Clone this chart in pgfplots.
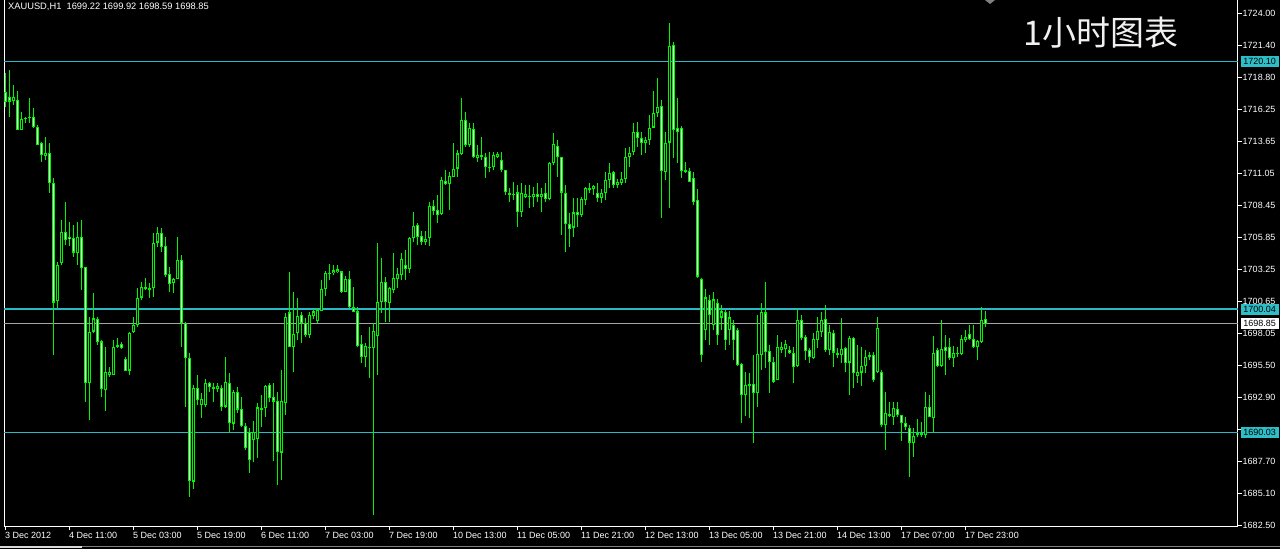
\documentclass[border=0pt]{standalone}
\usepackage{pgfplots}
\pgfplotsset{compat=1.18}
\usepackage{pgfplotstable}
\usepackage{fontspec}
\setmainfont{Liberation Sans}
\newfontfamily\cjk{Noto Sans CJK SC}
\definecolor{mtgreen}{RGB}{0,245,0}
\definecolor{lvl}{RGB}{40,185,200}
\definecolor{lvlbox}{RGB}{45,190,200}
\definecolor{pricel}{RGB}{165,165,165}
\definecolor{bearfill}{RGB}{215,255,215}

\pgfplotstableread{
k o h l c
0 1717.60 1719.22 1716.46 1716.79
1 1717.27 1719.46 1715.64 1716.87
2 1716.95 1718.24 1716.62 1717.27
3 1717.03 1717.68 1714.59 1714.59
4 1714.59 1716.05 1714.59 1715.48
5 1715.48 1715.64 1715.16 1715.56
6 1715.64 1717.19 1715.16 1715.56
7 1715.64 1716.38 1714.76 1714.84
8 1714.84 1715.00 1713.37 1713.37
9 1713.54 1713.62 1712.00 1712.56
10 1712.48 1714.02 1712.16 1712.73
11 1712.73 1713.54 1709.49 1710.30
12 1710.30 1710.70 1696.35 1700.58
13 1700.66 1703.90 1700.17 1703.65
14 1703.82 1707.30 1703.65 1706.33
15 1706.33 1708.76 1705.27 1705.68
16 1705.92 1707.06 1705.11 1705.68
17 1705.84 1706.89 1704.30 1704.63
18 1704.63 1707.14 1703.65 1705.92
19 1705.92 1707.30 1701.63 1703.41
20 1703.49 1703.49 1692.55 1694.09
21 1694.09 1699.44 1691.09 1698.22
22 1698.22 1701.39 1698.14 1699.28
23 1699.28 1699.36 1697.16 1697.41
24 1697.41 1697.57 1692.95 1693.52
25 1693.52 1697.00 1691.74 1694.98
26 1694.73 1695.38 1694.57 1694.98
27 1694.73 1697.57 1694.73 1697.00
28 1697.00 1697.73 1696.92 1697.16
29 1697.25 1697.41 1696.84 1696.92
30 1696.03 1696.19 1695.06 1695.06
31 1695.06 1698.22 1694.73 1698.14
32 1698.22 1699.44 1698.14 1698.78
33 1698.78 1701.79 1698.62 1700.98
34 1700.98 1702.28 1700.82 1701.87
35 1701.71 1702.60 1701.63 1701.87
36 1701.79 1702.20 1700.98 1701.63
37 1701.79 1706.25 1701.06 1705.44
38 1705.44 1706.73 1705.11 1706.25
39 1706.25 1706.65 1704.71 1705.11
40 1705.19 1705.92 1702.68 1702.84
41 1702.93 1703.49 1701.39 1702.12
42 1702.20 1702.60 1701.39 1702.52
43 1702.52 1705.92 1702.44 1704.06
44 1704.06 1704.46 1697.00 1698.95
45 1698.95 1699.03 1692.14 1696.11
46 1696.11 1696.52 1684.85 1686.07
47 1686.07 1693.92 1685.42 1693.68
48 1693.68 1694.73 1692.30 1692.71
49 1692.30 1693.28 1691.25 1692.79
50 1692.30 1694.41 1692.14 1694.09
51 1694.09 1694.17 1693.36 1693.76
52 1693.76 1694.09 1692.55 1693.60
53 1693.60 1694.09 1693.36 1693.84
54 1693.68 1693.92 1691.74 1692.14
55 1692.14 1696.19 1692.06 1694.09
56 1694.09 1694.90 1690.04 1690.77
57 1690.77 1693.52 1690.28 1693.36
58 1693.36 1693.76 1691.66 1691.90
59 1691.98 1692.95 1690.52 1690.60
60 1690.60 1690.85 1688.66 1688.82
61 1690.12 1690.44 1686.80 1687.85
62 1689.47 1690.93 1687.61 1690.12
63 1689.47 1692.47 1688.01 1692.06
64 1692.06 1693.11 1690.52 1691.90
65 1692.06 1693.92 1691.33 1693.84
66 1693.92 1694.09 1692.55 1692.87
67 1692.95 1694.09 1687.69 1692.55
68 1692.63 1693.36 1685.82 1688.50
69 1688.42 1695.14 1686.23 1692.63
70 1692.47 1699.77 1691.49 1699.44
71 1699.77 1703.09 1697.00 1697.00
72 1697.00 1701.47 1694.98 1698.06
73 1698.14 1700.98 1697.57 1699.52
74 1699.60 1699.77 1697.33 1698.95
75 1698.95 1699.36 1697.81 1697.97
76 1697.97 1699.85 1697.73 1699.60
77 1699.52 1700.09 1699.28 1699.85
78 1699.11 1700.17 1698.95 1700.01
79 1699.93 1702.44 1699.85 1701.71
80 1701.71 1703.17 1701.14 1703.01
81 1703.01 1703.74 1702.44 1702.93
82 1702.93 1703.65 1702.84 1703.17
83 1703.01 1703.65 1703.01 1703.25
84 1703.09 1703.17 1701.39 1701.39
85 1701.39 1702.76 1701.39 1702.52
86 1702.52 1703.17 1700.17 1700.25
87 1700.17 1701.79 1699.77 1699.77
88 1699.85 1700.25 1697.00 1697.08
89 1697.25 1697.97 1695.71 1696.19
90 1696.19 1697.33 1695.38 1697.08
91 1697.00 1698.62 1694.49 1696.92
92 1696.92 1698.95 1683.39 1698.30
93 1697.89 1705.44 1694.73 1700.66
94 1700.58 1704.22 1699.77 1702.20
95 1702.28 1702.60 1698.95 1700.66
96 1700.58 1701.87 1699.03 1701.79
97 1701.63 1704.63 1701.39 1702.60
98 1702.52 1703.41 1701.79 1702.93
99 1702.84 1704.63 1702.44 1704.14
100 1703.65 1704.87 1702.44 1703.33
101 1703.33 1705.92 1703.01 1705.84
102 1705.84 1707.95 1705.52 1706.81
103 1706.89 1707.06 1705.27 1705.92
104 1706.00 1706.33 1705.27 1705.44
105 1705.44 1706.33 1705.27 1705.76
106 1705.84 1708.68 1705.11 1708.43
107 1708.43 1708.92 1707.70 1708.03
108 1708.11 1709.32 1707.06 1707.70
109 1707.79 1710.78 1707.70 1710.54
110 1710.46 1711.35 1710.13 1710.22
111 1710.22 1711.11 1708.11 1710.86
112 1710.78 1713.54 1710.78 1711.43
113 1711.43 1712.97 1710.78 1712.65
114 1712.65 1717.19 1712.56 1715.40
115 1715.40 1716.05 1713.21 1713.37
116 1713.37 1715.16 1713.21 1714.76
117 1714.67 1715.16 1712.32 1712.40
118 1712.32 1713.37 1712.00 1712.56
119 1712.56 1714.02 1712.16 1712.40
120 1712.40 1712.73 1710.70 1711.59
121 1711.59 1712.81 1711.19 1711.51
122 1711.59 1712.81 1711.35 1712.56
123 1712.40 1712.81 1712.32 1712.65
124 1712.16 1712.81 1711.11 1711.35
125 1711.35 1711.35 1709.32 1709.49
126 1709.49 1709.89 1708.76 1709.32
127 1709.32 1710.38 1708.92 1709.41
128 1709.49 1710.13 1706.73 1707.87
129 1707.95 1710.30 1707.54 1709.49
130 1709.16 1710.13 1709.08 1709.41
131 1709.24 1710.13 1708.27 1709.16
132 1709.16 1709.97 1708.35 1709.41
133 1709.41 1710.30 1708.76 1709.16
134 1709.16 1709.89 1707.87 1709.41
135 1709.49 1710.30 1708.76 1709.00
136 1709.00 1712.00 1708.92 1711.92
137 1711.92 1714.35 1711.75 1713.46
138 1713.29 1713.78 1710.78 1712.40
139 1712.40 1712.40 1706.08 1709.49
140 1709.49 1710.13 1704.71 1706.98
141 1706.98 1707.87 1705.11 1706.57
142 1706.65 1709.08 1705.92 1707.87
143 1707.95 1709.08 1706.73 1707.70
144 1707.70 1709.16 1707.54 1709.00
145 1708.92 1709.97 1708.51 1709.89
146 1709.89 1710.30 1709.49 1709.73
147 1709.81 1710.13 1709.32 1710.05
148 1709.49 1710.30 1708.76 1709.08
149 1709.08 1709.81 1708.68 1709.49
150 1709.49 1711.19 1708.92 1710.54
151 1710.54 1711.92 1709.89 1711.11
152 1711.11 1711.27 1709.89 1710.13
153 1710.13 1710.62 1709.89 1710.38
154 1710.30 1711.19 1710.13 1710.62
155 1710.62 1713.13 1710.30 1712.40
156 1712.40 1713.21 1711.59 1712.73
157 1712.73 1715.16 1712.56 1714.43
158 1714.43 1715.24 1713.21 1713.94
159 1713.94 1714.35 1712.56 1713.54
160 1713.54 1714.02 1712.73 1713.78
161 1713.78 1715.81 1713.37 1714.76
162 1714.76 1717.68 1714.76 1715.97
163 1715.97 1718.81 1715.64 1716.46
164 1716.54 1717.03 1707.46 1711.27
165 1711.19 1714.43 1710.54 1713.54
166 1713.54 1723.27 1708.27 1721.40
167 1721.48 1721.65 1712.32 1714.59
168 1714.76 1717.19 1711.92 1714.43
169 1714.76 1714.84 1710.70 1711.27
170 1711.35 1712.00 1711.11 1711.19
171 1711.27 1711.51 1710.38 1710.38
172 1710.70 1711.11 1708.51 1708.76
173 1708.92 1709.81 1702.60 1702.68
174 1702.52 1702.60 1695.79 1696.35
175 1698.38 1701.63 1697.57 1700.98
176 1700.82 1701.22 1697.16 1699.60
177 1698.78 1701.47 1698.38 1700.82
178 1700.58 1700.82 1697.16 1697.97
179 1699.36 1700.41 1698.38 1699.85
180 1699.77 1700.01 1696.76 1697.57
181 1698.38 1699.85 1697.16 1699.36
182 1698.78 1699.19 1695.95 1697.57
183 1698.38 1698.54 1695.46 1695.54
184 1695.63 1695.71 1690.85 1693.11
185 1693.11 1694.90 1691.33 1693.92
186 1694.01 1694.90 1691.25 1693.84
187 1694.01 1696.35 1689.22 1693.28
188 1693.28 1699.60 1692.14 1696.44
189 1696.35 1700.58 1695.14 1699.77
190 1699.77 1702.28 1695.30 1696.60
191 1696.68 1697.16 1693.28 1695.79
192 1695.79 1696.19 1694.09 1694.17
193 1694.33 1697.97 1694.33 1697.00
194 1696.76 1697.41 1696.52 1697.00
195 1696.84 1697.57 1696.19 1697.25
196 1696.76 1697.08 1696.44 1696.52
197 1696.52 1697.00 1694.09 1695.38
198 1695.46 1700.09 1695.38 1699.19
199 1699.19 1699.60 1697.57 1697.73
200 1697.81 1697.97 1695.95 1696.68
201 1696.76 1696.92 1695.71 1696.19
202 1696.11 1698.14 1696.03 1697.65
203 1697.57 1699.36 1696.92 1698.30
204 1698.22 1699.85 1697.81 1699.19
205 1699.28 1700.41 1696.60 1696.76
206 1696.76 1698.78 1696.35 1698.22
207 1698.14 1698.38 1695.38 1696.52
208 1696.52 1696.92 1696.11 1696.35
209 1696.35 1699.36 1695.71 1696.84
210 1696.92 1697.00 1694.98 1695.71
211 1695.71 1697.89 1693.11 1697.73
212 1697.73 1697.81 1693.68 1694.90
213 1694.65 1697.16 1694.09 1694.98
214 1694.90 1697.00 1693.84 1695.46
215 1695.46 1696.76 1694.90 1696.19
216 1696.19 1696.60 1695.95 1696.35
217 1696.35 1696.60 1694.17 1694.33
218 1694.98 1699.44 1694.90 1698.54
219 1694.98 1695.14 1690.52 1690.68
220 1690.68 1693.36 1688.66 1691.66
221 1691.58 1692.55 1691.33 1691.41
222 1691.33 1692.55 1690.68 1692.06
223 1691.98 1692.47 1691.33 1691.49
224 1691.49 1691.49 1689.31 1690.85
225 1690.85 1691.33 1690.28 1690.52
226 1690.44 1690.68 1686.47 1689.23
227 1689.15 1690.44 1688.09 1689.79
228 1689.87 1691.17 1689.71 1690.04
229 1690.04 1690.93 1689.71 1689.87
230 1689.87 1693.36 1689.63 1692.14
231 1692.14 1693.11 1691.33 1691.33
232 1691.25 1697.89 1690.04 1696.52
233 1696.76 1696.92 1695.38 1695.46
234 1695.46 1699.19 1695.38 1696.84
235 1697.00 1697.97 1694.73 1696.68
236 1697.00 1697.73 1695.95 1696.11
237 1696.11 1697.08 1695.38 1696.52
238 1696.52 1697.00 1696.19 1696.44
239 1696.44 1697.97 1696.35 1697.65
240 1697.57 1698.38 1697.41 1697.81
241 1698.06 1698.78 1697.57 1697.65
242 1697.65 1698.78 1696.92 1697.00
243 1697.00 1697.57 1695.95 1697.49
244 1697.41 1700.17 1697.33 1699.19
245 1699.22 1699.92 1698.59 1698.85
}\candles

\begin{document}
\begin{tikzpicture}[x=1pt,y=1pt]
\fill[black] (0,0) rectangle (1280,549);
\useasboundingbox (0,0) rectangle (1280,549);
\begin{axis}[
  at={(4.5pt,22.5pt)}, anchor=south west,
  scale only axis, width=1233pt, height=527pt,
  xmin=-0.25, xmax=308, ymin=1682.42, ymax=1725.13,
  axis x line*=bottom, axis y line*=right,
  axis line style={white, line width=1pt},
  clip=false,
  tick align=outside,
  major tick length=4pt,
  tick style={white, line width=1pt},
  xtick={0,16,32,48,64,80,96,112,128,144,160,176,192,208,224,240},
  xticklabels={3 Dec 2012, 4 Dec 11:00, 5 Dec 03:00, 5 Dec 19:00, 6 Dec 11:00, 7 Dec 03:00, 7 Dec 19:00, 10 Dec 13:00, 11 Dec 05:00, 11 Dec 21:00, 12 Dec 13:00, 13 Dec 05:00, 13 Dec 21:00, 14 Dec 13:00, 17 Dec 07:00, 17 Dec 23:00},
  xticklabel style={anchor=north west, inner sep=0pt, text=white, font=\fontsize{9}{10}\selectfont, xshift=-0.5pt, yshift=-2pt},
  ytick={1682.50,1685.10,1687.70,1690.30,1692.90,1695.50,1698.05,1700.65,1703.25,1705.85,1708.45,1711.05,1713.65,1716.25,1718.80,1721.40,1724.00},
  yticklabels={1682.50,1685.10,1687.70,{},1692.90,1695.50,1698.05,1700.65,1703.25,1705.85,1708.45,1711.05,1713.65,1716.25,1718.80,1721.40,1724.00},
  yticklabel style={anchor=west, inner sep=0pt, text=white, font=\fontsize{9}{10}\selectfont, xshift=1pt},
]
\draw[white, line width=1pt] (rel axis cs:0,0) -- (rel axis cs:0,1);
% level lines
\addplot[lvl, line width=1.4pt, forget plot] coordinates {(-0.25,1720.10) (308,1720.10)};
\addplot[lvl, line width=1.4pt, forget plot] coordinates {(-0.25,1700.04) (308,1700.04)};
\addplot[lvl, line width=1.4pt, forget plot] coordinates {(-0.25,1690.03) (308,1690.03)};
\addplot[pricel, line width=1pt, forget plot] coordinates {(-0.25,1698.85) (308,1698.85)};
% wicks
\addplot[draw=none, mark=none, forget plot,
  error bars/.cd, y dir=both, y explicit, error mark=none,
  error bar style={draw=mtgreen, line width=1.3pt}]
  table[x=k, y expr={(\thisrow{h}+\thisrow{l})/2}, y error expr={(\thisrow{h}-\thisrow{l})/2}] {\candles};
% bodies
\addplot[draw=none, mark=none, forget plot,
  error bars/.cd, y dir=both, y explicit, error mark=none,
  error bar style={draw=mtgreen, line width=3pt}]
  table[x=k, y expr={(\thisrow{o}+\thisrow{c})/2}, y error expr={max(abs(\thisrow{o}-\thisrow{c})/2,0.045)}] {\candles};
% bear interior
\addplot[draw=none, mark=none, forget plot,
  error bars/.cd, y dir=both, y explicit, error mark=none,
  error bar style={draw=bearfill, line width=1pt}]
  table[x=k, y expr={(\thisrow{o}+\thisrow{c})/2}, y error expr={ifthenelse(\thisrow{o}>\thisrow{c}, max(abs(\thisrow{o}-\thisrow{c})/2-0.085,0), 0)}] {\candles};
% bull interior
\addplot[draw=none, mark=none, forget plot,
  error bars/.cd, y dir=both, y explicit, error mark=none,
  error bar style={draw=black, line width=1pt}]
  table[x=k, y expr={(\thisrow{o}+\thisrow{c})/2}, y error expr={ifthenelse(\thisrow{c}>\thisrow{o}, max(abs(\thisrow{o}-\thisrow{c})/2-0.085,0), 0)}] {\candles};
\coordinate (L1) at (axis cs:308,1720.10);
\coordinate (L2) at (axis cs:308,1700.04);
\coordinate (L3) at (axis cs:308,1690.03);
\coordinate (L4) at (axis cs:308,1698.85);
\end{axis}
\tikzset{lbl/.style={anchor=west, inner xsep=1.5pt, inner ysep=0pt, minimum height=11pt, minimum width=38pt, text=black, font=\fontsize{9}{10}\selectfont}}
\node[lbl, fill=lvlbox] at ([xshift=3pt]L1) {1720.10};
\node[lbl, fill=lvlbox] at ([xshift=3pt]L2) {1700.04};
\node[lbl, fill=lvlbox] at ([xshift=3pt]L3) {1690.03};
\node[lbl, fill=white] at ([xshift=3pt]L4) {1698.85};
\node[anchor=west, inner sep=0pt, text=white, font=\fontsize{9.3}{10}\selectfont] at (8,542) {XAUUSD,H1\ \ 1699.22 1699.92 1698.59 1698.85};
\node[anchor=west, inner sep=0pt, text=white!94!black, font=\cjk\fontsize{34}{36}\selectfont] at (1023,516) {1小时图表};
\fill[gray] (985,549) -- (995,549) -- (990,545) -- cycle;
\fill[white!85!black] (0,1.5) rectangle (82,3.5);
\draw[gray, line width=0.8pt] (82,3) -- (1280,3);
\end{tikzpicture}
\end{document}
